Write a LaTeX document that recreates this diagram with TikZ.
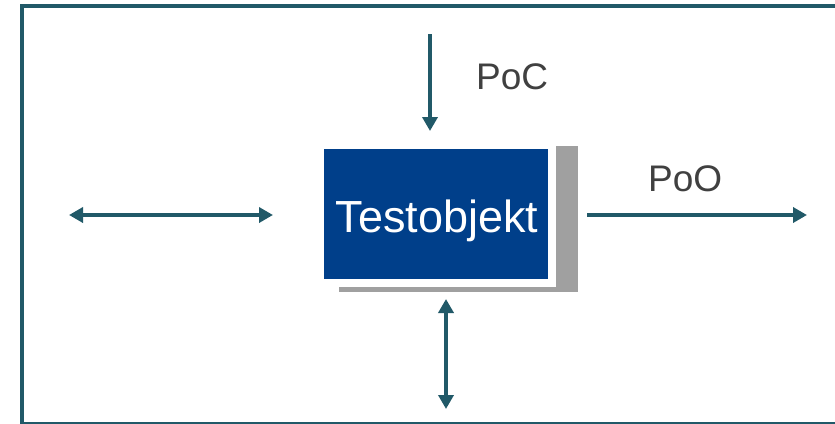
\documentclass[tikz,border=0pt]{standalone}
\usepackage{fontspec}
\setmainfont{Liberation Sans}
\usepackage{tikz}
\usetikzlibrary{arrows.meta,calc}

\definecolor{frameteal}{RGB}{33,89,104}
\definecolor{objblue}{RGB}{0,63,138}
\definecolor{shadowgray}{RGB}{160,160,160}
\definecolor{labelgray}{RGB}{64,64,64}

\tikzset{
	tip/.tip={Triangle[length=14pt,width=15pt]},
	conn/.style={draw=frameteal, line width=4pt, -tip},
	bothconn/.style={draw=frameteal, line width=4pt, tip-tip},
	lbl/.style={anchor=base west, inner sep=0pt, text=labelgray, font=\fontsize{37}{44}\selectfont}
}

\begin{document}
\begin{tikzpicture}[x=1pt,y=-1pt]
		\useasboundingbox (0,0) rectangle (835,423);
		% frame
		\draw[frameteal, line width=4pt] (22,6) rectangle (840,424);
		% shadow behind the object
		\fill[shadowgray] (339,146) rectangle (578,292);
		\fill[white] (330,140) rectangle (556,287);
		\node[fill=objblue, minimum width=224pt, minimum height=130pt, inner sep=0pt] (obj) at (436,214) {};
		\node[anchor=base, inner sep=0pt, text=white, font=\fontsize{45}{52}\selectfont] (objtext) at (437,232) {Testobjekt};
		% free ends
		\coordinate (pocstart) at (430,34);
		\coordinate (pocend) at (430,131);
		\coordinate (poostart) at (587,215);
		\coordinate (pooend) at (807,215);
		\coordinate (leftend) at (69,215);
		\coordinate (leftstart) at (273,215);
		\coordinate (downstart) at (446,299);
		\coordinate (downend) at (446,409);
		\path
		(pocstart) edge[conn] (pocend)
		(poostart) edge[conn] (pooend)
		(leftend) edge[bothconn] (leftstart)
		(downstart) edge[bothconn] (downend)
		;
		\node[lbl] (poc) at (476,89) {PoC};
		\node[lbl] (poo) at (648,191) {PoO};
		\end{tikzpicture}
\end{document}
